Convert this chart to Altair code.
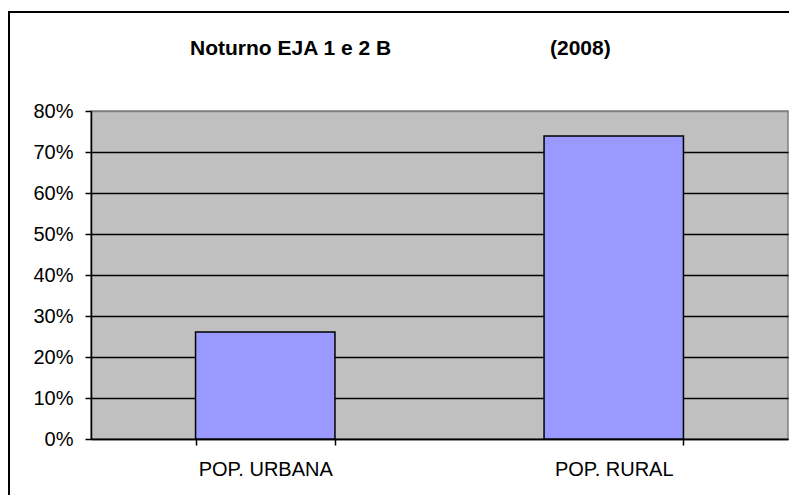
import altair as alt
import pandas as pd

categories = ["POP. URBANA", "POP. RURAL"]
shares = [0.261, 0.739]
y_ticks = [0.0, 0.1, 0.2, 0.3, 0.4, 0.5, 0.6, 0.7, 0.8]
title_left = "Noturno EJA 1 e 2 B"
title_right = "(2008)"

df = pd.DataFrame({"categoria": categories, "valor": shares})
one = pd.DataFrame({"k": [0]})

FONT = "Liberation Sans"

bars = alt.Chart(df).mark_bar(color="#9999FF", stroke="black", strokeWidth=1.5).encode(
    x=alt.X(
        "categoria:N", sort=categories, title=None,
        scale=alt.Scale(paddingInner=0.6, paddingOuter=0.3),
        axis=alt.Axis(labelAngle=0, tickBand="extent", labelFontSize=20, labelFont=FONT,
                      labelColor="black", domainColor="black", domainWidth=1.5,
                      tickColor="black", tickSize=6, tickWidth=1.5, labelPadding=14, grid=False),
    ),
    y=alt.Y(
        "valor:Q", title=None,
        scale=alt.Scale(domain=[0, 0.8], nice=False),
        axis=alt.Axis(values=y_ticks, format=".0%", labelFontSize=20, labelFont=FONT,
                      labelColor="black", domainColor="black", domainWidth=1.5,
                      tickColor="black", tickSize=6, tickWidth=1.5, labelPadding=12,
                      grid=True, gridWidth=1.3,
                      gridColor={"condition": {"test": "datum.value >= 0.8", "value": "#808080"},
                                 "value": "black"}),
    ),
)

border = alt.Chart(one).mark_rect(fill="transparent", stroke="black", strokeWidth=2).encode(
    x=alt.value(-82), y=alt.value(-99), x2=alt.value(760), y2=alt.value(450)
)

t1 = alt.Chart(one).mark_text(text=title_left, font=FONT, fontSize=21, fontWeight="bold",
                              align="left", baseline="alphabetic", color="black").encode(
    x=alt.value(99), y=alt.value(-56)
)
t2 = alt.Chart(one).mark_text(text=title_right, font=FONT, fontSize=21, fontWeight="bold",
                              align="left", baseline="alphabetic", color="black").encode(
    x=alt.value(459), y=alt.value(-56)
)

chart = alt.layer(bars, border, t1, t2).properties(
    width=697, height=328,
    autosize=alt.AutoSizeParams(type="none"),
    padding={"left": 83, "top": 103, "right": 1, "bottom": 56},
    background="white",
).configure_view(fill="#C0C0C0", stroke="#808080", strokeWidth=1.5)

chart.save("out.html", embed_options={"renderer": "svg", "actions": False})
